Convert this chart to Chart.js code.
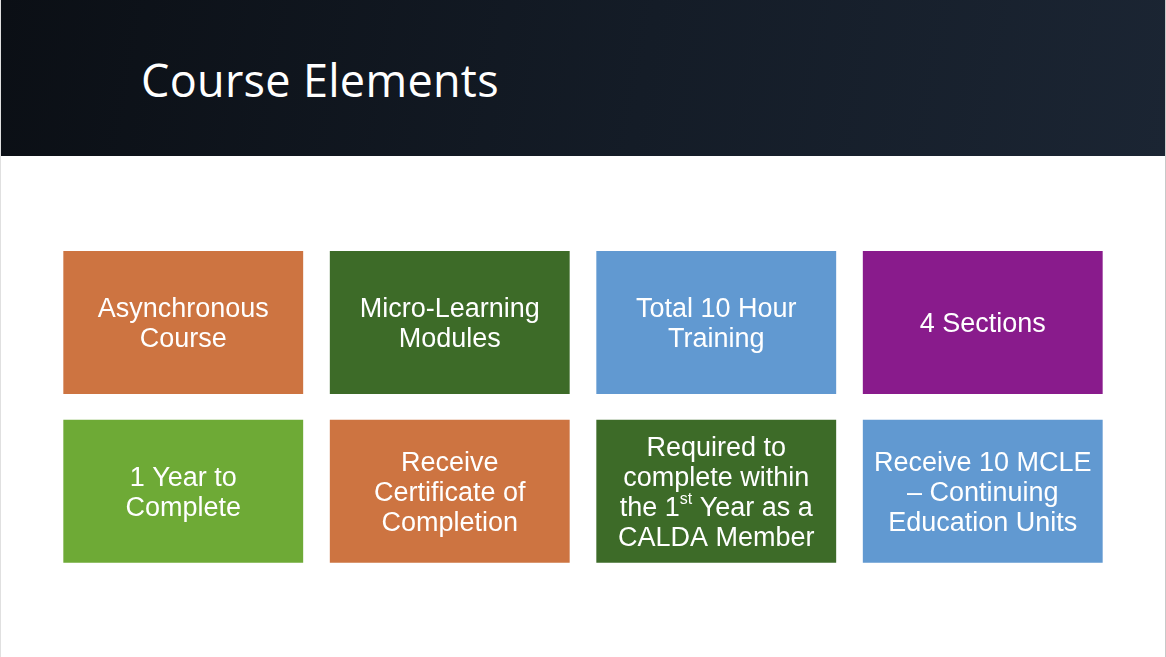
<!DOCTYPE html>
<html>
<head>
<meta charset="utf-8">
<script src="https://cdn.jsdelivr.net/npm/chart.js@4"></script>
<style>
  html, body { margin: 0; padding: 0; background: #fff; }
  #page { position: relative; width: 1166px; height: 657px; overflow: hidden; box-sizing: border-box; border-right: 1px solid #c8c8c8; border-left: 1px solid #e0e0e0; }
  #header { position: absolute; left: 0; top: 0; width: 1166px; height: 156px;
    background: linear-gradient(100deg, #0b0f15 0%, #141c27 55%, #1b2533 100%); }
  #header h1 { position: absolute; left: 140px; top: 49px; margin: 0; color: #fff;
    font: 400 45px "Open Sans", sans-serif; letter-spacing: 0.3px; }
  #wrap { position: absolute; left: 0; top: 156px; width: 1166px; height: 501px; }
</style>
</head>
<body>
<div id="page">
  <div id="header"><h1>Course Elements</h1></div>
  <div id="wrap"><canvas id="chart"></canvas></div>
</div>
<script>
const columns = ['c1', 'c2', 'c3', 'c4'];
// each row is a band on the vertical axis
const row1Band = [1.0, 2.0];
const row2Band = [2.18, 3.18];
const row1Colors = ['#cd7441', '#3d6b28', '#6199d1', '#891b8c'];
const row2Colors = ['#6eaa36', '#cd7441', '#3d6b28', '#6199d1'];
const row1Texts = [
  ['Asynchronous', 'Course'],
  ['Micro-Learning', 'Modules'],
  ['Total 10 Hour', 'Training'],
  ['4 Sections']
];
const row2Texts = [
  ['1 Year to', 'Complete'],
  ['Receive', 'Certificate of', 'Completion'],
  ['Required to', 'complete within', 'the 1^st^ Year as a', 'CALDA Member'],
  ['Receive 10 MCLE', '\u2013 Continuing', 'Education Units']
];

const tileText = {
  id: 'tileText',
  afterDatasetsDraw(chart) {
    const ctx = chart.ctx;
    const sets = [row1Texts, row2Texts];
    ctx.save();
    ctx.fillStyle = '#fff';
    ctx.textBaseline = 'middle';
    chart.data.datasets.forEach(function(ds, di) {
      chart.getDatasetMeta(di).data.forEach(function(bar, i) {
        const lines = sets[di][i];
        const cy = (bar.y + bar.base) / 2 + 2;
        const lh = 30;
        lines.forEach(function(line, li) {
          const y = cy + (li - (lines.length - 1) / 2) * lh;
          const parts = line.split('^');
          const font = k => (k % 2 ? '16px' : '27px') + ' "Liberation Sans", Arial, sans-serif';
          const widths = parts.map(function(p, k) {
            ctx.font = font(k);
            return ctx.measureText(p).width;
          });
          let x = bar.x - widths.reduce((a, b) => a + b, 0) / 2;
          parts.forEach(function(p, k) {
            ctx.font = font(k);
            ctx.textAlign = 'left';
            ctx.fillText(p, x, k % 2 ? y - 9 : y);
            x += widths[k];
          });
        });
      });
    });
    ctx.restore();
  }
};

new Chart(document.getElementById('chart'), {
  type: 'bar',
  data: {
    labels: columns,
    datasets: [
      { data: columns.map(() => row1Band), backgroundColor: row1Colors },
      { data: columns.map(() => row2Band), backgroundColor: row2Colors }
    ]
  },
  options: {
    responsive: true,
    maintainAspectRatio: false,
    animation: false,
    layout: { padding: { left: 49, right: 51, top: 0, bottom: 0 } },
    datasets: { bar: { grouped: false, barPercentage: 0.9, categoryPercentage: 1 } },
    scales: {
      x: { display: false },
      y: { display: false, reverse: true, min: 0.336, max: 3.839 }
    },
    plugins: { legend: { display: false }, tooltip: { enabled: false } }
  },
  plugins: [tileText]
});
</script>
</body>
</html>
